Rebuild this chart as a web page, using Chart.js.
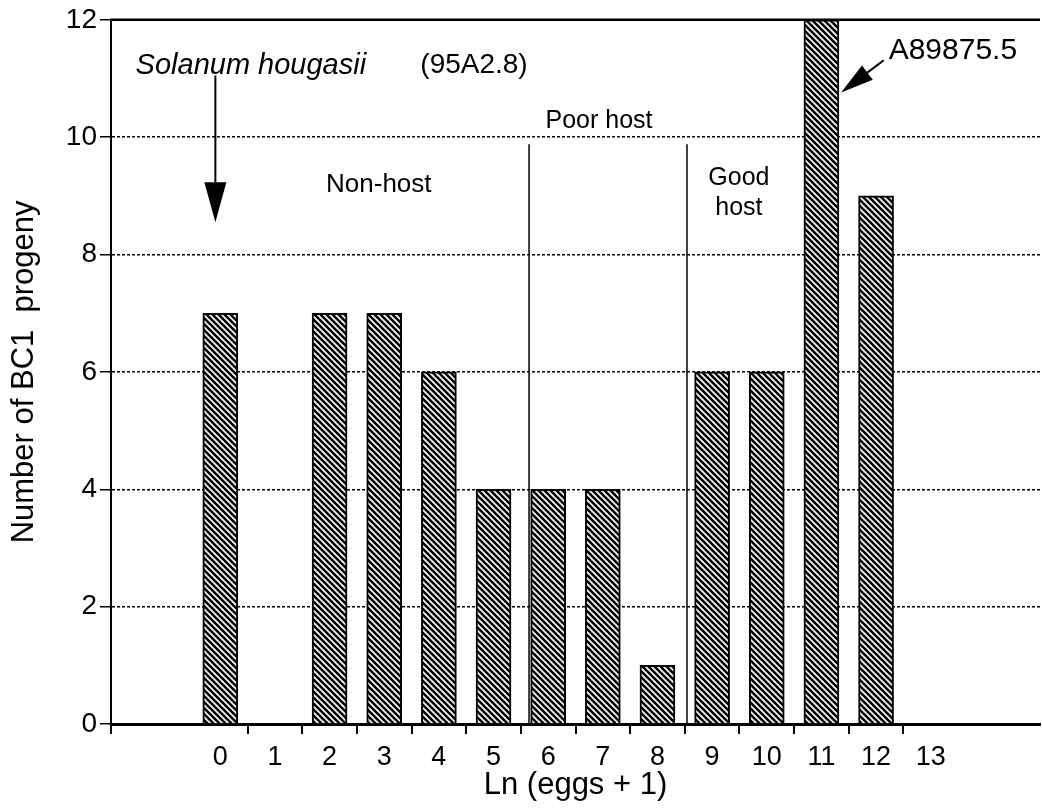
<!DOCTYPE html>
<html>
<head>
<meta charset="utf-8">
<script src="https://cdn.jsdelivr.net/npm/chart.js@4.4.0/dist/chart.umd.min.js"></script>
<style>
  html, body { margin: 0; padding: 0; background: #fff; }
  #wrap { width: 1042px; height: 810px; }
</style>
</head>
<body>
<div id="wrap"><canvas id="chart"></canvas></div>
<script>
// Ln(eggs + 1) classes and number of BC1 progeny in each
const eggClasses = [0, 1, 2, 3, 4, 5, 6, 7, 8, 9, 10, 11, 12, 13];
const progenyCounts = [7, null, 7, 7, 6, 4, 4, 4, 1, 6, 6, 12, 9, null];
const xTickLabels = ['0', '1', '2', '3', '4', '5', '6', '7', '8', '9', '10', '11', '12', '13'];
const classBoundaries = [-2, 0.5, 1.5, 2.5, 3.5, 4.5, 5.5, 6.5, 7.5, 8.5, 9.5, 10.5, 11.5, 12.5];
const yTicks = [0, 2, 4, 6, 8, 10, 12];

// host class dividers (x in ln units) and notes
const dividers = [5.65, 8.54];
const dividerTop = 9.88;
const notes = [
  { text: 'Solanum hougasii', x: -1.55, y: 11.22, align: 'left', font: 'italic 29px "Liberation Sans", Arial, sans-serif' },
  { text: '(95A2.8)', x: 3.66, y: 11.22, align: 'left', font: '28px "Liberation Sans", Arial, sans-serif' },
  { text: 'Non-host', x: 2.9, y: 9.19, align: 'center', font: '26px "Liberation Sans", Arial, sans-serif' },
  { text: 'Poor host', x: 6.93, y: 10.28, align: 'center', font: '25px "Liberation Sans", Arial, sans-serif' },
  { text: 'Good', x: 9.49, y: 9.30, align: 'center', font: '25px "Liberation Sans", Arial, sans-serif' },
  { text: 'host', x: 9.49, y: 8.79, align: 'center', font: '25px "Liberation Sans", Arial, sans-serif' },
  { text: 'A89875.5', x: 12.23, y: 11.48, align: 'left', font: '30px "Liberation Sans", Arial, sans-serif' }
];
const arrows = [
  { from: [-0.09, 11.05], to: [-0.09, 8.55], head: 40, half: 11 },
  { from: [12.14, 11.31], to: [11.36, 10.76], head: 33, half: 9 }
];

function hatch() {
  const c = document.createElement('canvas');
  c.width = 6; c.height = 6;
  const g = c.getContext('2d');
  g.fillStyle = '#fff';
  g.fillRect(0, 0, 6, 6);
  g.strokeStyle = '#000';
  g.lineWidth = 2.6;
  g.beginPath();
  for (let k = -1; k <= 1; k++) {
    g.moveTo(-2, -2 + 6 * k);
    g.lineTo(8, 8 + 6 * k);
  }
  g.stroke();
  return g.createPattern(c, 'repeat');
}

const annotate = {
  id: 'annotate',
  afterDatasetsDraw(chart) {
    const { ctx, scales: { x, y } } = chart;
    ctx.save();
    ctx.strokeStyle = '#000';
    ctx.fillStyle = '#000';

    // solid frame line at top
    ctx.lineWidth = 2.5;
    ctx.beginPath();
    ctx.moveTo(x.left - 1, y.top);
    ctx.lineTo(x.right, y.top);
    ctx.stroke();

    ctx.lineWidth = 1.5;
    dividers.forEach(d => {
      const px = x.getPixelForValue(d);
      ctx.beginPath();
      ctx.moveTo(px, y.getPixelForValue(dividerTop));
      ctx.lineTo(px, y.getPixelForValue(0));
      ctx.stroke();
    });

    arrows.forEach(a => {
      const x0 = x.getPixelForValue(a.from[0]), y0 = y.getPixelForValue(a.from[1]);
      const x1 = x.getPixelForValue(a.to[0]), y1 = y.getPixelForValue(a.to[1]);
      const ang = Math.atan2(y1 - y0, x1 - x0);
      const bx = x1 - Math.cos(ang) * a.head, by = y1 - Math.sin(ang) * a.head;
      ctx.lineWidth = 2;
      ctx.beginPath();
      ctx.moveTo(x0, y0);
      ctx.lineTo(bx, by);
      ctx.stroke();
      ctx.beginPath();
      ctx.moveTo(x1, y1);
      ctx.lineTo(bx + Math.sin(ang) * a.half, by - Math.cos(ang) * a.half);
      ctx.lineTo(bx - Math.sin(ang) * a.half, by + Math.cos(ang) * a.half);
      ctx.closePath();
      ctx.fill();
    });

    ctx.textBaseline = 'middle';
    notes.forEach(n => {
      ctx.font = n.font;
      ctx.textAlign = n.align;
      ctx.fillText(n.text, x.getPixelForValue(n.x), y.getPixelForValue(n.y));
    });
    ctx.restore();
  }
};

const font = '"Liberation Sans", Arial, Helvetica, sans-serif';

new Chart(document.getElementById('chart'), {
  type: 'bar',
  data: {
    datasets: [{
      data: eggClasses.map((c, i) => ({ x: c, y: progenyCounts[i] })),
      backgroundColor: hatch(),
      borderColor: '#000',
      borderWidth: 2,
      borderSkipped: 'bottom',
      barThickness: 35
    }]
  },
  options: {
    responsive: true,
    maintainAspectRatio: false,
    animation: false,
    layout: { padding: { top: 17, right: 2, bottom: 0, left: 0 } },
    plugins: { legend: { display: false }, tooltip: { enabled: false } },
    scales: {
      x: {
        type: 'linear',
        offset: false,
        min: -2,
        max: 15,
        afterBuildTicks: s => {
          const vals = classBoundaries.concat(eggClasses).sort((a, b) => a - b);
          s.ticks = vals.map(v => ({ value: v }));
        },
        afterFit: s => { s.height = 86; },
        ticks: {
          autoSkip: false,
          maxRotation: 0,
          color: '#000',
          padding: 7,
          font: { family: font, size: 27 },
          callback: v => (eggClasses.includes(v) ? xTickLabels[eggClasses.indexOf(v)] : '')
        },
        grid: {
          offset: false,
          drawOnChartArea: false,
          tickLength: 10,
          lineWidth: 2,
          color: c => (c.tick && classBoundaries.includes(c.tick.value) ? '#000' : 'rgba(0,0,0,0)')
        },
        border: { color: '#000', width: 3 },
        title: {
          display: true,
          text: 'Ln (eggs + 1)',
          color: '#000',
          font: { family: font, size: 31 },
          padding: { top: 0, bottom: 6 }
        }
      },
      y: {
        min: 0,
        max: 12,
        afterBuildTicks: s => { s.ticks = yTicks.map(v => ({ value: v })); },
        afterFit: s => { s.width = 111; },
        ticks: {
          color: '#000',
          padding: 3,
          font: { family: font, size: 28 }
        },
        grid: {
          color: '#000',
          lineWidth: 1.5,
          tickLength: 11
        },
        border: { color: '#000', width: 2, dash: [3, 2] },
        title: {
          display: true,
          text: 'Number of BC1  progeny',
          color: '#000',
          font: { family: font, size: 31 },
          padding: { top: 6, bottom: 0 }
        }
      }
    }
  },
  plugins: [annotate]
});
</script>
</body>
</html>
